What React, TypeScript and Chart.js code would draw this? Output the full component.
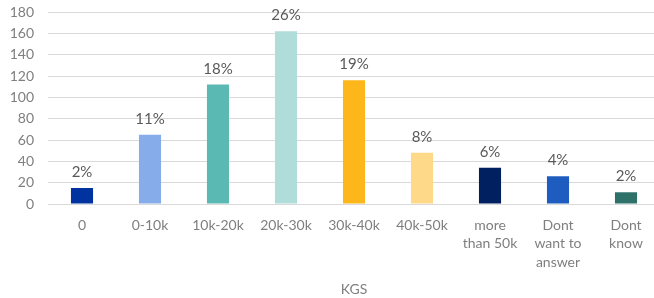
import React, { useEffect, useRef } from "react";
import { Chart, registerables } from "chart.js";

Chart.register(...registerables);

const categories: (string | string[])[] = [
  "0",
  "0-10k",
  "10k-20k",
  "20k-30k",
  "30k-40k",
  "40k-50k",
  ["more", "than 50k"],
  ["Dont", "want to", "answer"],
  ["Dont", "know"],
];
const counts = [15, 65, 112, 162, 116, 48, 34, 26, 11];
const percentLabels = ["2%", "11%", "18%", "26%", "19%", "8%", "6%", "4%", "2%"];
const barColors = [
  "#0033A0",
  "#86ADEA",
  "#5BB9B3",
  "#B0DCD9",
  "#FDB71A",
  "#FFD98A",
  "#002060",
  "#1F5CC0",
  "#2E7168",
];
const axisTitle = "KGS";

const FONT = "Lato, 'Open Sans', sans-serif";
const TEXT = "#595959";
const AXIS_TEXT = "#7F7F7F";

const labelPlugin = {
  id: "pctLabels",
  afterDatasetsDraw(chart: any) {
    const ctx = chart.ctx;
    const meta = chart.getDatasetMeta(0);
    ctx.save();
    ctx.font = `15px ${FONT}`;
    ctx.fillStyle = TEXT;
    ctx.textAlign = "center";
    ctx.textBaseline = "alphabetic";
    meta.data.forEach((bar: any, i: number) => {
      ctx.fillText(percentLabels[i], bar.x, bar.y - 11);
    });
    ctx.restore();
  },
};

export default function App() {
  const ref = useRef<HTMLCanvasElement | null>(null);
  useEffect(() => {
    if (!ref.current) return;
    const chart = new Chart(ref.current, {
      type: "bar",
      data: {
        labels: categories,
        datasets: [
          {
            data: counts,
            backgroundColor: barColors,
            barPercentage: 0.325,
            categoryPercentage: 1,
          },
        ],
      },
      options: {
        animation: false,
        responsive: false,
        maintainAspectRatio: false,
        layout: { padding: { top: 12, right: 0, left: 0, bottom: 0 } },
        plugins: {
          legend: { display: false },
          tooltip: { enabled: false },
        },
        scales: {
          x: {
            grid: { display: false, drawTicks: false },
            border: { color: "#d9d9d9", width: 1 },
            ticks: {
              color: AXIS_TEXT,
              font: { family: FONT, size: 14, lineHeight: 1.33 },
              padding: 12,
              maxRotation: 0,
              autoSkip: false,
            },
            title: {
              display: true,
              text: axisTitle,
              color: AXIS_TEXT,
              font: { family: FONT, size: 14 },
              padding: { top: 0, bottom: 0 },
            },
            afterFit: (scale: any) => {
              scale.height = 94;
              scale.paddingLeft = 0;
              scale.paddingRight = 0;
            },
          },
          y: {
            min: 0,
            max: 180,
            ticks: {
              stepSize: 20,
              autoSkip: false,
              color: AXIS_TEXT,
              font: { family: FONT, size: 14 },
              padding: 14,
            },
            grid: { color: "#d9d9d9", drawTicks: false },
            border: { display: false },
            afterFit: (scale: any) => {
              scale.width = 48;
              scale.paddingTop = 0;
              scale.paddingBottom = 0;
            },
          },
        },
      },
      plugins: [labelPlugin],
    });
    return () => chart.destroy();
  }, []);
  return (
    <div
      style={{
        position: "absolute",
        left: 0,
        top: 0,
        width: 654,
        height: 298,
        overflow: "hidden",
        background: "#fff",
      }}
    >
      <canvas ref={ref} width={660} height={298} />
    </div>
  );
}
